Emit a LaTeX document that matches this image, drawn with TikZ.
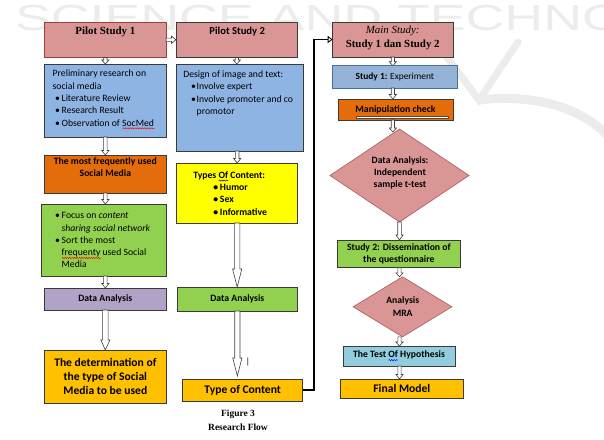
\documentclass[tikz,border=0pt]{standalone}
\usepackage{fontspec}
\setmainfont{Carlito}
\newfontfamily\tnr{Liberation Serif}
\newfontfamily\wmf{Liberation Sans}
\usetikzlibrary{shapes.geometric,calc,decorations.pathmorphing,arrows.meta}
\definecolor{pk}{HTML}{D99694}
\definecolor{pkd}{HTML}{9B3F3C}
\definecolor{bl}{HTML}{8EB4E3}
\definecolor{bls}{HTML}{95B3D7}
\definecolor{blsd}{HTML}{4A6E9E}
\definecolor{og}{HTML}{E46C0A}
\definecolor{gn}{HTML}{92D050}
\definecolor{pu}{HTML}{B3A2C7}
\definecolor{ye}{HTML}{FFFF00}
\definecolor{gd}{HTML}{FFC000}
\definecolor{cy}{HTML}{93CDDD}
\definecolor{bdc}{HTML}{3A3A3A}
\definecolor{dmd}{HTML}{B06462}
\definecolor{wmc}{HTML}{ECECEC}
\newsavebox\sqbox
\newlength\sqlen
\newcommand\squig[2]{\sbox\sqbox{#2}\setlength\sqlen{\wd\sqbox}\rlap{\raisebox{-2.3pt}{\tikz[baseline=0pt]\draw[#1,line width=0.45pt,decorate,decoration={snake,amplitude=0.6pt,segment length=2.4pt}] (0,0) -- (\sqlen,0);}}\usebox\sqbox}
\newcommand\bul[2]{\hspace*{#1}\makebox[#2][l]{\textbullet}}
\newcommand\fsz[2]{\fontsize{#1}{#2}\selectfont}
\newcommand\varr[5]{\path[barr] let \p1=#1, \p2=#2 in (\x1-#3pt,\y1) -- (\x1-#3pt,\y2+#5pt) -- (\x1-#4pt,\y2+#5pt) -- (\x1,\y2) -- (\x1+#4pt,\y2+#5pt) -- (\x1+#3pt,\y2+#5pt) -- (\x1+#3pt,\y1) -- cycle;}
\newcommand\harr[5]{\path[barr] let \p1=#1, \p2=#2 in (\x1,\y1-#3pt) -- (\x2-#5pt,\y1-#3pt) -- (\x2-#5pt,\y1-#4pt) -- (\x2,\y1) -- (\x2-#5pt,\y1+#4pt) -- (\x2-#5pt,\y1+#3pt) -- (\x1,\y1+#3pt) -- cycle;}
\tikzset{
  bx/.style={rectangle, draw=bdc, line width=0.8pt, inner sep=0pt, outer sep=0pt, align=center},
  dm/.style={diamond, draw=dmd, fill=pk, line width=0.7pt, inner sep=0pt, outer sep=0pt},
  tx/.style={inner sep=0pt, outer sep=0pt},
  barr/.style={draw=black!75, fill=white, line width=0.6pt, line join=miter},
  f97/.style={font=\fsz{9.7}{12.3}},
  f97b/.style={font=\fsz{9.7}{12.3}\bfseries},
  fbig/.style={font=\fsz{11.6}{14}\bfseries},
}
\begin{document}
\begin{tikzpicture}[x=1pt,y=-1pt]
\useasboundingbox (0,0) rectangle (604,439);
\fill[white] (0,0) rectangle (604,439);
% watermark
\begin{scope}
\clip (0,0) rectangle (604,439);
\node[tx, anchor=base west, xscale=1.48, text=wmc, font=\wmf\fsz{36.3}{36.3}] (wm) at (15,30.5) {SCIENCE AND TECHNO};
\draw[wmc, line width=7pt, line cap=round] (446,56) -- (479,100) -- (518,42);
\draw[wmc, line width=9pt] (479,100) .. controls (530,94) and (580,105) .. (610,138);
\end{scope}
% left column
\node[bx, draw=pkd, fill=pk, minimum width=121.3pt, minimum height=35.5pt] (p1) at (105.35,39.75) {};
\node[tx, font=\tnr\bfseries\fsz{10.9}{13}] (p1t) at (105.35,31.5) {Pilot Study 1};
\node[bx, fill=bl, minimum width=121.3pt, minimum height=73pt] (b1) at (105.35,100.5) {};
\node[tx, f97, anchor=west, align=left] (b1t) at (52.7,99.6) {Preliminary research on\\social media\\\bul{2.3pt}{6.7pt}Literature Review\\\bul{2.3pt}{6.7pt}Research Result\\\bul{2.3pt}{6.7pt}Observation of \squig{red}{SocMed}};
\node[bx, fill=og, minimum width=121.3pt, minimum height=38pt] (or) at (105.35,174) {};
\node[tx, f97b, font=\fsz{9.7}{11.5}\bfseries, align=center] (ort) at (105.35,167.2) {The most frequently used\\Social Media};
\node[bx, fill=gn, minimum width=124.3pt, minimum height=72pt] (g1) at (103.85,240) {};
\node[tx, f97, anchor=west, align=left] (g1t) at (52.7,240.3) {\bul{2.3pt}{6.7pt}Focus on \textit{content}\\\hspace*{9pt}\textit{sharing social network}\\\bul{2.3pt}{6.7pt}Sort the most\\\hspace*{9pt}\squig{red}{frequenty} used Social\\\hspace*{9pt}Media};
\node[bx, fill=pu, f97b, minimum width=121.3pt, minimum height=22pt] (pu) at (105.35,299) {Data Analysis};
\node[bx, fill=gd, fbig, minimum width=121.3pt, minimum height=53pt] (det) at (105.35,376.5) {The determination of\\the type of Social\\Media to be used};
% middle column
\node[bx, fill=pk, minimum width=121.7pt, minimum height=35.5pt] (p2) at (236.85,39.75) {};
\node[tx, font=\fsz{10.6}{13}\bfseries] (p2t) at (237.2,31.5) {Pilot Study 2};
\node[bx, fill=bl, minimum width=127pt, minimum height=87pt] (b2) at (239.5,107.5) {};
\node[tx, f97, anchor=west, align=left] (b2t) at (183.3,93.3) {Design of image and text:\\\bul{7.7pt}{5.7pt}Involve expert\\\bul{7.7pt}{5.7pt}Involve promoter and co\\\hspace*{13.4pt}promotor};
\node[bx, fill=ye, minimum width=121pt, minimum height=60pt] (yl) at (237.2,193) {};
\node[tx, f97b, anchor=west, align=left] (ylt) at (193.3,193.4) {Types \squig{blue}{Of} Content:\\\bul{20pt}{6.7pt}Humor\\\bul{20pt}{6.7pt}Sex\\\bul{20pt}{6.7pt}Informative};
\node[bx, fill=gn, f97b, minimum width=120.7pt, minimum height=24pt] (g2) at (237.35,299) {Data Analysis};
\node[bx, fill=gd, fbig, minimum width=120pt, minimum height=22.7pt] (toc) at (242.7,390.35) {Type of Content};
\node[tx, font=\fsz{9}{9}] (cur) at (248,361.5) {|};
% right column
\node[bx, fill=pk, minimum width=120.3pt, minimum height=35pt] (ms) at (392.85,39.5) {};
\node[tx, font=\tnr\fsz{10.9}{14.8}, align=center] (mst) at (392.7,37.8) {\textit{Main Study:}\\\textbf{Study 1 dan Study 2}};
\node[bx, draw=blsd, fill=bls, font=\fsz{9.4}{11}, minimum width=124.3pt, minimum height=22.3pt] (s1) at (394.85,76.85) {\textbf{Study 1:} Experiment};
\node[bx, fill=og, font=\fsz{9.8}{11}\bfseries, minimum width=115pt, minimum height=21pt] (mc) at (395.5,109.5) {Manipulation check};
\node[draw=black!70, fill=white, line width=0.5pt, minimum width=91.6pt, minimum height=2.8pt, inner sep=0pt] (mcbar) at (402.5,117.3) {};
\node[dm, minimum width=139pt, minimum height=93pt] (d1) at (399.5,175.5) {};
\node[tx, f97b, font=\fsz{9.7}{12}\bfseries, align=center] (d1t) at (400,173.1) {Data Analysis:\\Independent\\sample t-test};
\node[bx, fill=gn, font=\fsz{9.7}{12.3}\bfseries, minimum width=123.7pt, minimum height=27.7pt] (s2) at (398.85,253.85) {Study 2: Dissemination of\\the questionnaire};
\node[dm, minimum width=98.7pt, minimum height=60pt] (d2) at (402.5,306.8) {};
\node[tx, font=\fsz{9.7}{12.7}\bfseries, align=center] (d2t) at (402.7,306.3) {Analysis\\MRA};
\node[bx, fill=cy, f97b, minimum width=112pt, minimum height=20pt] (th) at (399,356) {The Test \squig{blue}{Of} Hypothesis};
\node[bx, fill=gd, fbig, minimum width=122.3pt, minimum height=19pt] (fm) at (401.85,388.5) {Final Model};
\coordinate (d1in) at ([yshift=-3pt]d1.north);
% caption
\node[tx, font=\tnr\bfseries\fsz{9.5}{14}, align=center] (cap) at (238,420) {Figure 3\\Research Flow};
% arrows
\harr{(p1.east)}{(p1.east -| p2.west)}{1.6}{3.6}{4.5}
\varr{(p1.south)}{(p1.south |- b1.north)}{1.6}{3.6}{4}
\varr{(b1.south)}{(b1.south |- or.north)}{1.8}{3.6}{4.5}
\varr{(or.south)}{(or.south |- g1.north)}{1.8}{3.6}{4.5}
\varr{(pu.north |- g1.south)}{(pu.north)}{1.8}{3.6}{4.5}
\varr{(pu.south)}{(pu.south |- det.north)}{2.8}{4.5}{10}
\varr{(p2.south)}{(p2.south |- b2.north)}{1.6}{3.6}{4}
\varr{(yl.north |- b2.south)}{(yl.north)}{1.8}{3.6}{4.5}
\varr{(yl.south)}{(yl.south |- g2.north)}{2.6}{4.6}{18}
\varr{(g2.south)}{([yshift=3pt]g2.south |- toc.north)}{2.6}{4.6}{18}
\varr{(ms.south)}{(ms.south |- s1.north)}{1.6}{3.6}{4}
\varr{(ms.south |- s1.south)}{(ms.south |- mc.north)}{1.6}{3.6}{4.5}
\varr{(ms.south |- mc.south)}{(ms.south |- d1in)}{1.6}{3.6}{4}
\varr{(d1.south)}{(d1.south |- s2.north)}{1.8}{3.6}{5}
\varr{(d1.south |- s2.south)}{(d1.south |- d2.north)}{1.6}{3.6}{4}
\varr{(d1.south |- d2.south)}{(d1.south |- th.north)}{1.6}{3.6}{4}
\varr{(d1.south |- th.south)}{(d1.south |- fm.north)}{1.6}{3.6}{4.5}
\draw[line width=1.8pt, line join=miter, -{Triangle[open,length=5pt,width=7pt,line width=0.8pt]}] (toc.east) -| ([xshift=-18.7pt]ms.west) -- (ms.west);
\end{tikzpicture}
\end{document}
